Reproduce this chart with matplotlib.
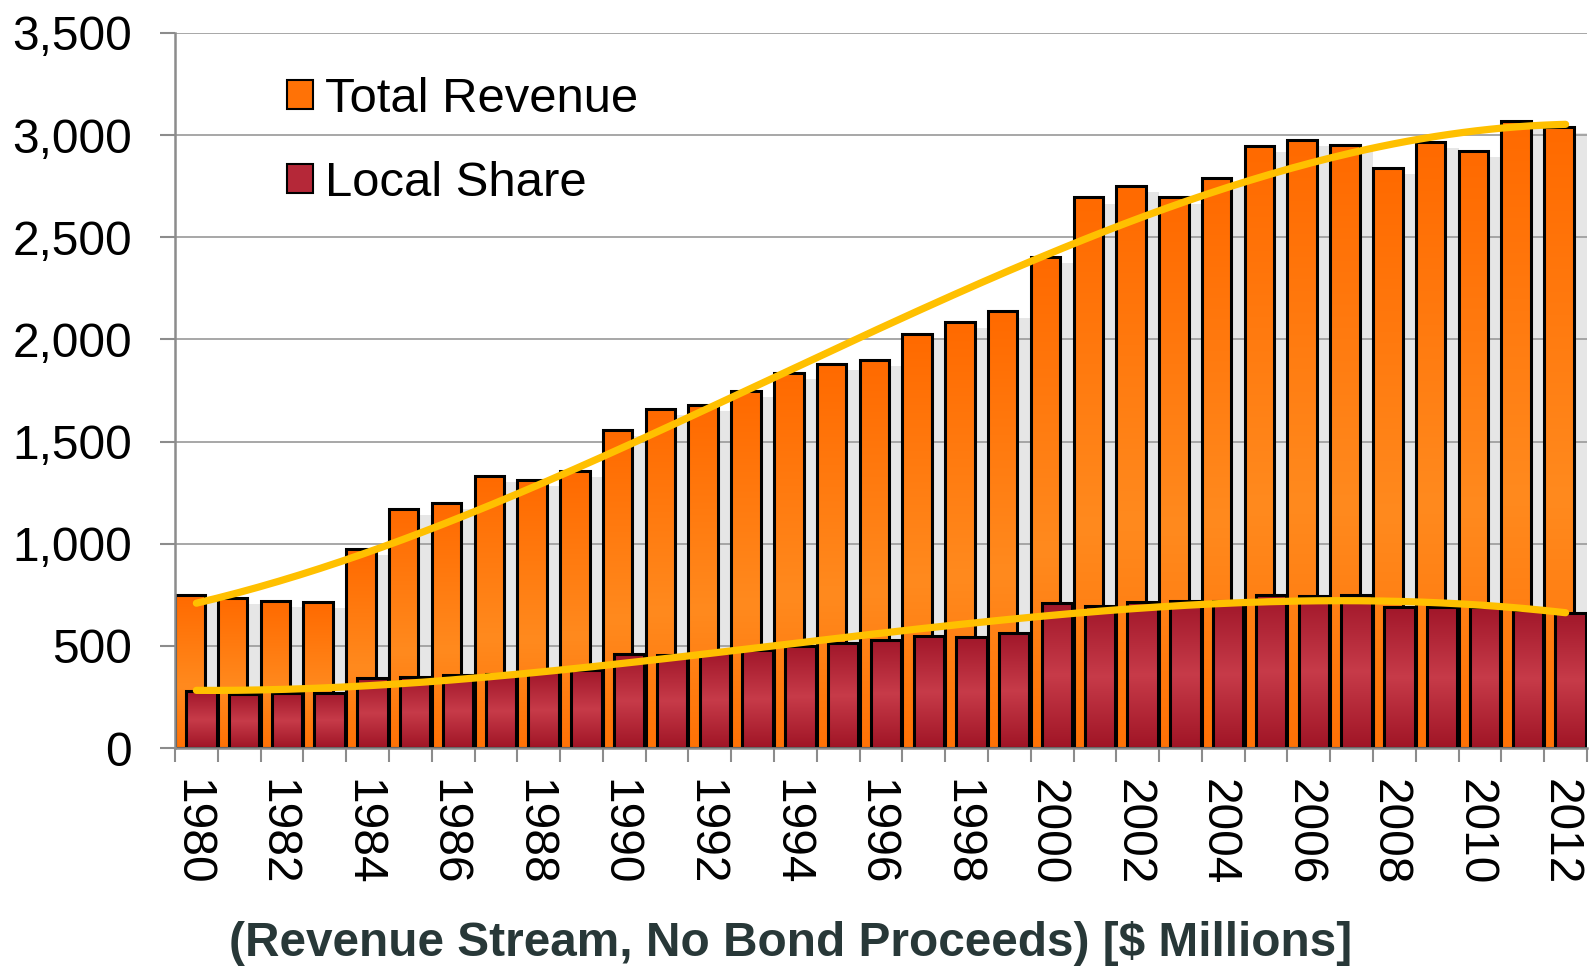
import numpy as np
import matplotlib
matplotlib.use("Agg")
import matplotlib.pyplot as plt
import matplotlib.transforms as mtransforms
from matplotlib.patches import Patch
from matplotlib.colors import to_rgb

# data ($ millions)
years = list(range(1980, 2013))
total_revenue = [751, 735, 718, 714, 974, 1172, 1199, 1333, 1313, 1357,
                 1559, 1658, 1678, 1750, 1838, 1882, 1900, 2027, 2084, 2137,
                 2405, 2695, 2752, 2695, 2788, 2946, 2975, 2951, 2840, 2967,
                 2923, 3069, 3040]
local_share = [279, 262, 267, 270, 342, 347, 358, 360, 372, 381,
               459, 457, 466, 479, 500, 512, 531, 546, 544, 561,
               710, 696, 714, 718, 718, 748, 745, 748, 691, 689,
               688, 676, 661]
y_ticks = [0, 500, 1000, 1500, 2000, 2500, 3000, 3500]

plt.rcParams['font.family'] = ['Liberation Sans', 'DejaVu Sans']

fig = plt.figure(figsize=(15.89, 9.68), dpi=100)
ax = fig.add_axes([175 / 1589, 1 - 748 / 968, 1412 / 1589, 715 / 968])

n = len(years)
idx = np.arange(n)


def gradient(stops, npts=64):
    # stops: list of (t, color), t=0 top, t=1 bottom
    t = np.linspace(0, 1, npts)
    cols = np.array([to_rgb(c) for _, c in stops])
    pos = [p for p, _ in stops]
    img = np.stack([np.interp(t, pos, cols[:, k]) for k in range(3)], axis=1)
    return img[:, None, :]


orange_grad = gradient([(0, '#ff6a00'), (0.6, '#ff8a1e'), (1, '#ff7206')])
red_grad = gradient([(0, '#a1172a'), (0.5, '#c73b49'), (1, '#a01526')])


def grad_bars(xs, heights, width, grad, base, z):
    bars = ax.bar(xs, heights, width=width, color=base, edgecolor='none',
                  zorder=z)
    for b in bars:
        x0 = b.get_x()
        h = b.get_height()
        im = ax.imshow(grad, extent=[x0, x0 + width, 0, h], aspect='auto',
                       interpolation='bilinear', zorder=z + 0.1)
        im.set_clip_path(b)
    ax.bar(xs, heights, width=width, color='none', edgecolor='black',
           linewidth=2.2, zorder=z + 0.2)


# soft shadow showing in the gaps, cast to the right of each bar
ax.bar(idx + 0.345 + 0.31, np.array(total_revenue) - 30, width=0.69,
       color='#e6e6e6', edgecolor='none', zorder=0.2)

grad_bars(idx + 0.345, total_revenue, 0.69, orange_grad, '#ff7a10', 2)
grad_bars(idx + 0.615, local_share, 0.71, red_grad, '#b52838', 3)

# polynomial trend lines
xc = idx + 0.5
xs = np.linspace(xc[0], xc[-1], 200)
for series in (total_revenue, local_share):
    coef = np.polyfit(xc, series, 3)
    ax.plot(xs, np.polyval(coef, xs), color='#ffc000', linewidth=5.2,
            solid_capstyle='round', zorder=5)

ax.set_xlim(0, n)
ax.set_ylim(0, 3500)
ax.set_aspect('auto')

ax.set_yticks(y_ticks)
ax.set_yticklabels([f"{v:,}" for v in y_ticks], fontsize=34.5)
ax.tick_params(axis='y', length=11, width=1.5, color='#8c8c8c', pad=20)

ax.set_xticks(xc[::2])
ax.set_xticklabels([str(y) for y in years[::2]], rotation=270, fontsize=34.5,
                   va='top', ha='center')
ax.set_xticks(np.arange(n + 1), minor=True)
ax.tick_params(axis='x', which='major', length=0, pad=22)
ax.tick_params(axis='x', which='minor', length=10, width=1.5,
               color='#8c8c8c')
# nudge rotated year labels slightly left
shift = mtransforms.ScaledTranslation(-5 / 100, 0, fig.dpi_scale_trans)
for lab in ax.get_xticklabels():
    lab.set_transform(lab.get_transform() + shift)

ax.set_axisbelow(True)
ax.yaxis.grid(True, color='#a0a0a0', linewidth=1.3, zorder=0.5)
for s in ('top', 'right'):
    ax.spines[s].set_visible(False)
for s in ('left', 'bottom'):
    ax.spines[s].set_color('#8c8c8c')
    ax.spines[s].set_linewidth(1.8)
    ax.spines[s].set_zorder(6)

handles = [Patch(facecolor='#ff7206', edgecolor='black', linewidth=1.5),
           Patch(facecolor='#b52838', edgecolor='black', linewidth=1.5)]
fig.legend(handles, ['Total Revenue', 'Local Share'], loc='upper left',
           bbox_to_anchor=(287 / 1589, 1 - 77 / 968), frameon=False,
           fontsize=35.3, handlelength=0.53, handleheight=0.53,
           handletextpad=0.25, labelspacing=0.8, borderpad=0,
           borderaxespad=0)

fig.text(791 / 1589, 1 - 943 / 968,
         '(Revenue Stream, No Bond Proceeds) [$ Millions]',
         fontsize=34.4, fontweight='bold', color='#283838',
         ha='center', va='center')

fig.savefig('out.png', dpi=100, facecolor='white')
